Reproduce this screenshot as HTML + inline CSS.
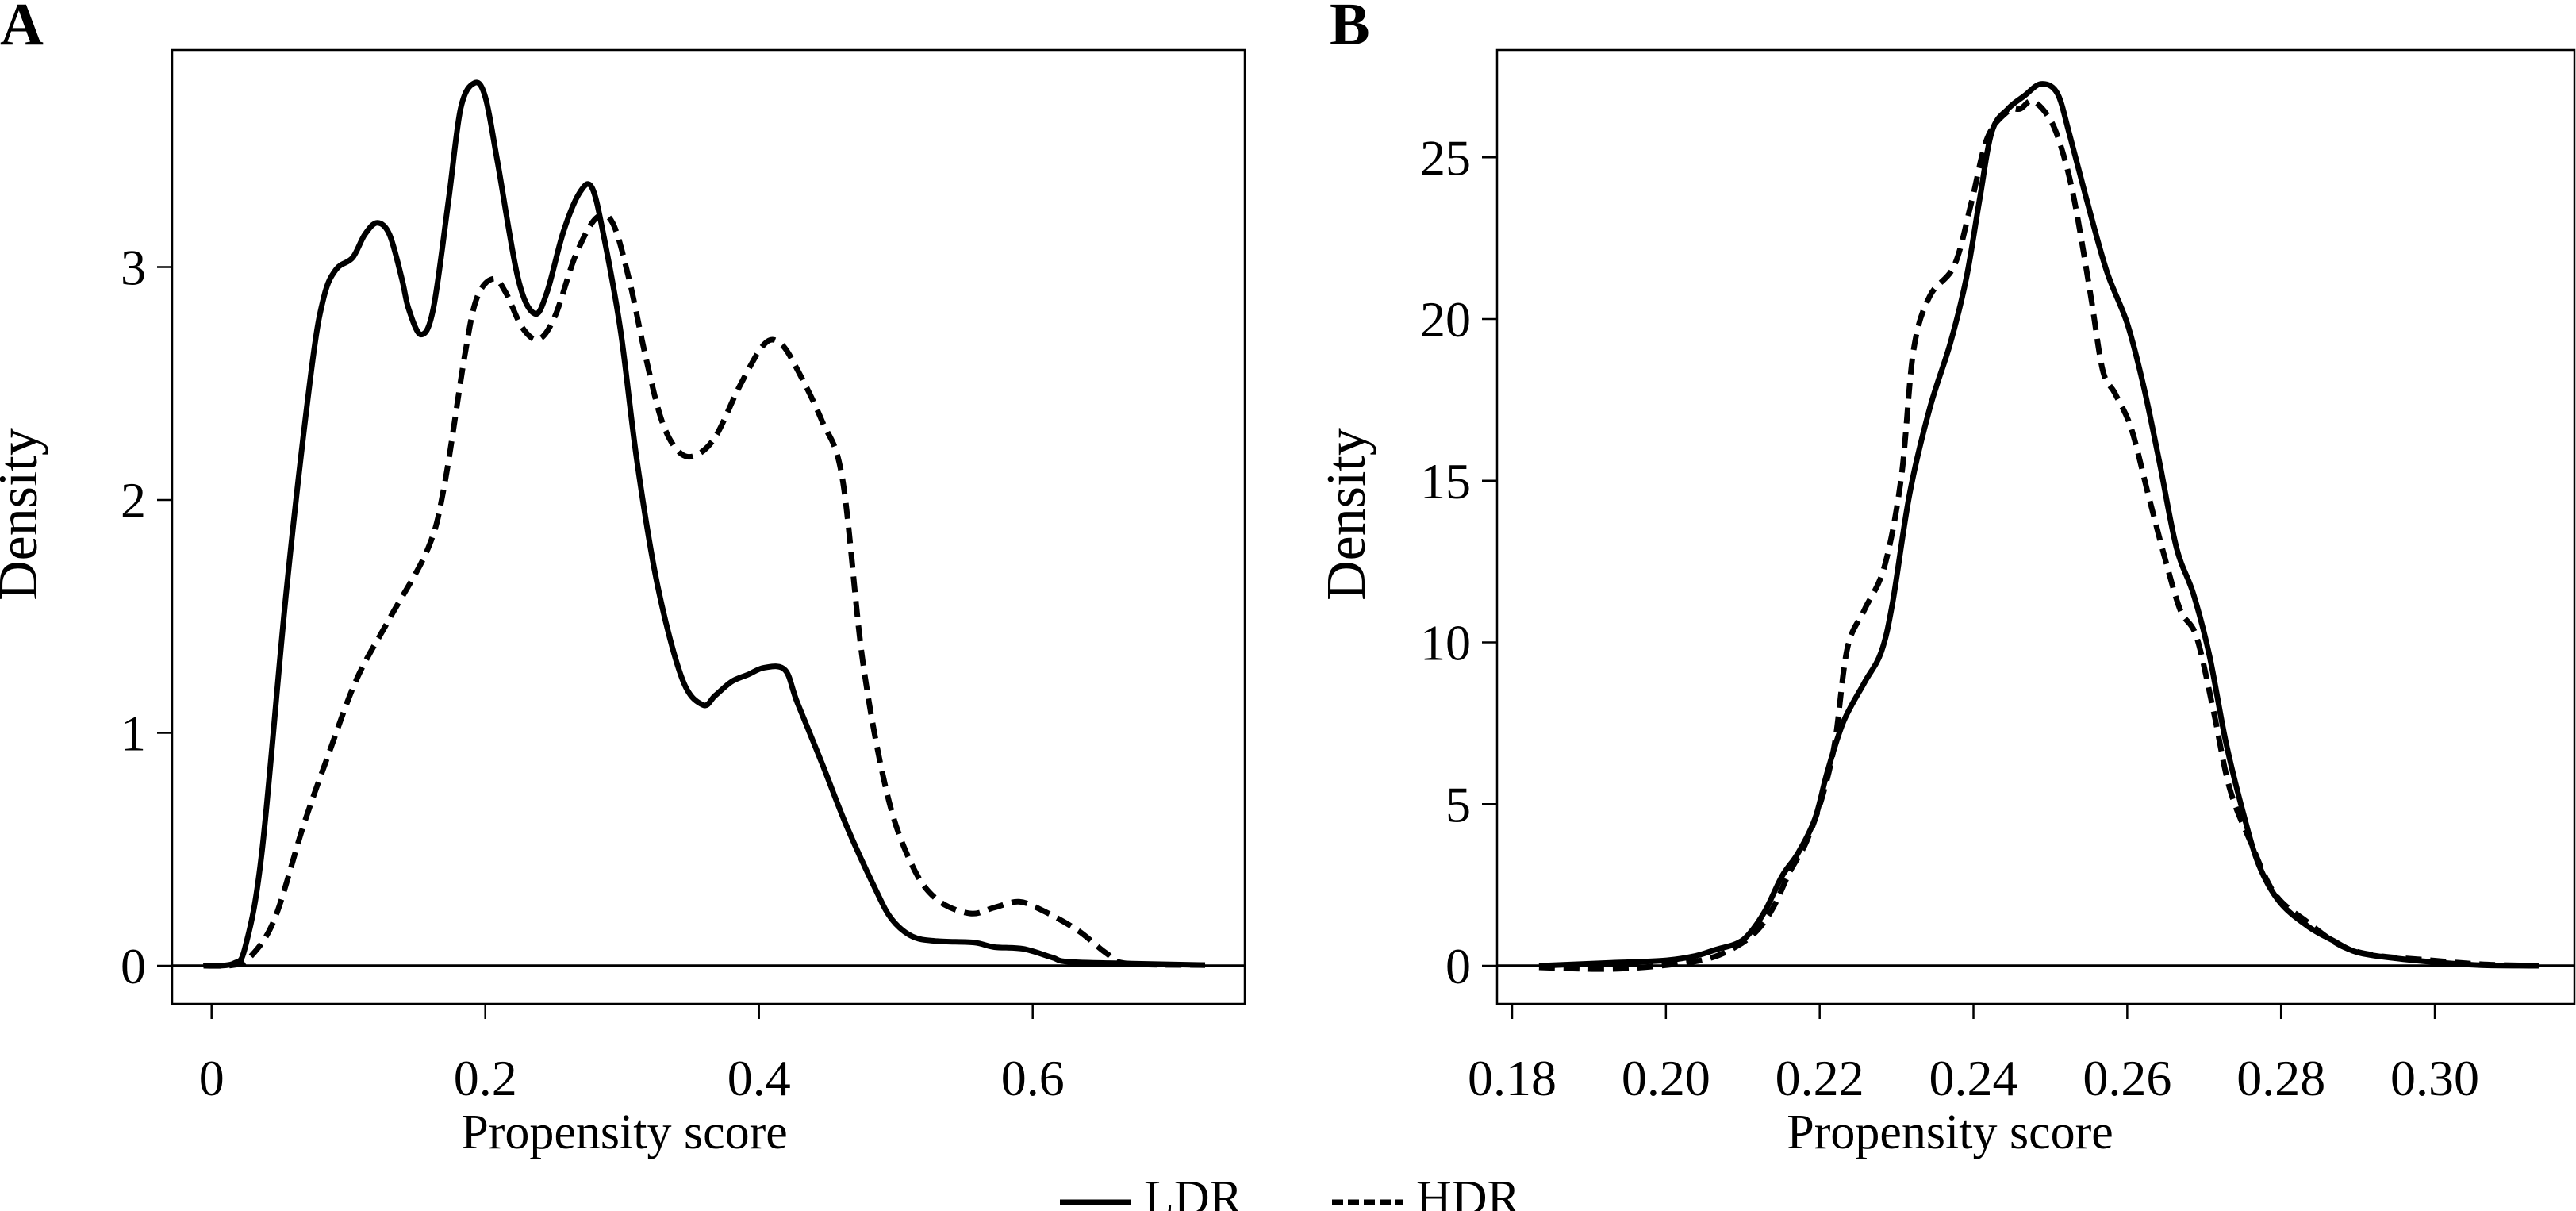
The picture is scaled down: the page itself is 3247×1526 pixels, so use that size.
<!DOCTYPE html>
<html><head><meta charset="utf-8"><style>
html,body{margin:0;padding:0;background:#fff;}
svg{display:block;font-family:"Liberation Serif",serif;}
</style></head><body>
<svg id="chart" width="3247" height="1526" viewBox="0 0 3247 1526">
<text x="0" y="56" font-size="76" font-weight="bold">A</text>
<text x="1676" y="56" font-size="76" font-weight="bold">B</text>
<g id="pa"></g>
<g id="pb"></g>
<g>
<line x1="1336" y1="1515" x2="1425" y2="1515" stroke="#000" stroke-width="7"/>
<text x="1442" y="1530" font-size="62">LDR</text>
<line x1="1679" y1="1515" x2="1768" y2="1515" stroke="#000" stroke-width="7" stroke-dasharray="14 6"/>
<text x="1785" y="1530" font-size="62">HDR</text>
</g>
</svg>
<script>
// Panel A data
const aLdrX=[-0.006,0.016,0.025,0.037,0.055,0.073,0.082,0.091,0.103,0.112,0.121,0.13,0.139,0.144,0.153,0.162,0.173,0.182,0.192,0.2,0.209,0.224,0.236,0.245,0.257,0.269,0.278,0.287,0.299,0.311,0.326,0.344,0.359,0.368,0.38,0.392,0.404,0.419,0.428,0.446,0.464,0.485,0.497,0.512,0.53,0.557,0.572,0.593,0.614,0.626,0.669,0.726];
const aLdrY=[0,0.01,0.09,0.5,1.63,2.56,2.87,2.99,3.04,3.14,3.19,3.14,2.95,2.82,2.71,2.82,3.28,3.68,3.79,3.73,3.45,2.95,2.8,2.89,3.15,3.32,3.34,3.12,2.72,2.16,1.63,1.23,1.12,1.16,1.22,1.25,1.28,1.27,1.13,0.87,0.6,0.33,0.2,0.126,0.106,0.1,0.08,0.073,0.036,0.017,0.01,0.003];
const aHdrX=[-0.005,0.016,0.028,0.046,0.067,0.085,0.106,0.13,0.158,0.17,0.185,0.194,0.206,0.215,0.227,0.239,0.251,0.266,0.281,0.293,0.305,0.317,0.329,0.341,0.353,0.368,0.386,0.404,0.416,0.428,0.446,0.461,0.476,0.494,0.512,0.53,0.554,0.572,0.59,0.608,0.633,0.654,0.669,0.726];
const aHdrY=[0,0.003,0.036,0.2,0.6,0.9,1.23,1.49,1.79,2.06,2.62,2.87,2.95,2.89,2.74,2.69,2.79,3.05,3.21,3.19,2.95,2.62,2.34,2.21,2.19,2.27,2.49,2.67,2.67,2.56,2.34,2.09,1.3,0.73,0.43,0.285,0.225,0.25,0.275,0.235,0.152,0.053,0.01,0.003];
const aXTicks=[0,0.2,0.4,0.6];
const aXTickLabels=["0","0.2","0.4","0.6"];
const aYTicks=[0,1,2,3];
const aYTickLabels=["0","1","2","3"];
// Panel B data
const bLdrX=[0.1835,0.1937,0.2001,0.2039,0.2065,0.2092,0.2108,0.2129,0.2151,0.2172,0.2194,0.221,0.2231,0.2258,0.228,0.2295,0.2317,0.2343,0.237,0.2391,0.2408,0.2424,0.2445,0.2466,0.2488,0.2509,0.2525,0.2546,0.2573,0.26,0.2621,0.2642,0.2664,0.2686,0.2707,0.2728,0.275,0.2771,0.2798,0.2835,0.2867,0.29,0.2953,0.3007,0.306,0.3135];
const bLdrY=[0,0.1,0.17,0.31,0.5,0.69,0.98,1.7,2.77,3.49,4.56,6.0,7.55,8.75,9.7,11.26,14.6,17.23,19.26,21.3,23.7,25.8,26.5,26.9,27.27,26.98,25.7,23.8,21.5,19.86,17.95,15.56,12.93,11.5,9.58,6.95,4.8,3.13,1.98,1.22,0.79,0.41,0.22,0.1,0.02,0];
const bHdrX=[0.1835,0.1926,0.2001,0.2055,0.2092,0.2119,0.214,0.2161,0.2183,0.2204,0.222,0.2236,0.2258,0.2284,0.2306,0.2322,0.2343,0.2375,0.2397,0.2418,0.2445,0.2461,0.2477,0.2499,0.2515,0.2531,0.2552,0.2568,0.2584,0.2605,0.2627,0.2648,0.2669,0.269,0.2712,0.2733,0.276,0.2792,0.2835,0.2878,0.2921,0.2985,0.306,0.3135];
const bHdrY=[-0.05,-0.1,0.02,0.22,0.6,1.1,1.82,2.9,3.85,5.28,6.95,9.82,11.0,12.33,15.08,19.02,20.7,21.65,23.57,25.6,26.43,26.5,26.74,26.2,25.24,23.69,20.8,18.43,17.7,16.63,14.6,12.69,11.0,10.18,7.9,5.5,3.85,2.22,1.34,0.62,0.33,0.19,0.05,0];
const bXTicks=[0.18,0.20,0.22,0.24,0.26,0.28,0.30];
const bXTickLabels=["0.18","0.20","0.22","0.24","0.26","0.28","0.30"];
const bYTicks=[0,5,10,15,20,25];
const bYTickLabels=["0","5","10","15","20","25"];

const NS="http://www.w3.org/2000/svg";
function mk(parent,tag,attrs,text){const e=document.createElementNS(NS,tag);for(const k in attrs)e.setAttribute(k,attrs[k]);if(text!==undefined)e.textContent=text;parent.appendChild(e);return e;}
function smoothPath(pts){
  let d="M"+pts[0][0].toFixed(1)+","+pts[0][1].toFixed(1);
  for(let i=0;i<pts.length-1;i++){
    const p0=pts[i-1]||pts[i],p1=pts[i],p2=pts[i+1],p3=pts[i+2]||p2;
    const c1=[p1[0]+(p2[0]-p0[0])/6,p1[1]+(p2[1]-p0[1])/6];
    const c2=[p2[0]-(p3[0]-p1[0])/6,p2[1]-(p3[1]-p1[1])/6];
    d+="C"+c1[0].toFixed(1)+","+c1[1].toFixed(1)+" "+c2[0].toFixed(1)+","+c2[1].toFixed(1)+" "+p2[0].toFixed(1)+","+p2[1].toFixed(1);
  }
  return d;
}
function panel(g,cfg){
  const {L,R,T,B,x0px,x0,xs,y0px,ys}=cfg;
  const sx=v=>x0px+(v-x0)*xs, sy=v=>y0px-v*ys;
  const box=mk(g,"rect",{x:L,y:T,width:R-L,height:B-T,fill:"none",stroke:"#000","stroke-width":2.5});
  
  
  const zl=mk(g,"line",{x1:L,x2:R,y1:sy(0),y2:sy(0),stroke:"#000","stroke-width":3.5});
  
  
  cfg.xt.forEach((v,i)=>{
    const t=mk(g,"line",{x1:sx(v),x2:sx(v),y1:B,y2:B+19,stroke:"#000","stroke-width":2.5});
    
    
    const l=mk(g,"text",{x:sx(v),y:1380,"font-size":64,"text-anchor":"middle"},cfg.xl[i]);
    
    
  });
  cfg.yt.forEach((v,i)=>{
    const t=mk(g,"line",{x1:L-19,x2:L,y1:sy(v),y2:sy(v),stroke:"#000","stroke-width":2.5});
    
    
    const l=mk(g,"text",{x:L-33,y:sy(v)+22,"font-size":64,"text-anchor":"end"},cfg.yl[i]);
    
    
  });
  const xt=mk(g,"text",{x:cfg.xtc,y:1447,"font-size":62,"text-anchor":"middle"},"Propensity score");
  
  
  const yt=mk(g,"text",{x:0,y:0,"font-size":70,"text-anchor":"middle",transform:"translate("+(cfg.ylx)+",648) rotate(-90)"},"Density");
  
  
  const ldr=mk(g,"path",{d:smoothPath(cfg.lx.map((v,i)=>[sx(v),sy(cfg.ly[i])])),fill:"none",stroke:"#000","stroke-width":7,"stroke-linejoin":"round"});
  
  
  const hdr=mk(g,"path",{d:smoothPath(cfg.hx.map((v,i)=>[sx(v),sy(cfg.hy[i])])),fill:"none",stroke:"#000","stroke-width":7,"stroke-dasharray":"20 11"});
  
  
}
panel(document.getElementById("pa"),{L:217,R:1569,T:63,B:1265,x0px:266.7,x0:0,xs:1725,y0px:1217,ys:293.5,
  xt:aXTicks,xl:aXTickLabels,yt:aYTicks,yl:aYTickLabels,ylx:46,xtc:787,lx:aLdrX,ly:aLdrY,hx:aHdrX,hy:aHdrY});
panel(document.getElementById("pb"),{L:1887,R:3245,T:63,B:1265,x0px:1906,x0:0.18,xs:9692,y0px:1217,ys:40.75,
  xt:bXTicks,xl:bXTickLabels,yt:bYTicks,yl:bYTickLabels,ylx:1720,xtc:2458,lx:bLdrX,ly:bLdrY,hx:bHdrX,hy:bHdrY});
</script>
</body></html>
